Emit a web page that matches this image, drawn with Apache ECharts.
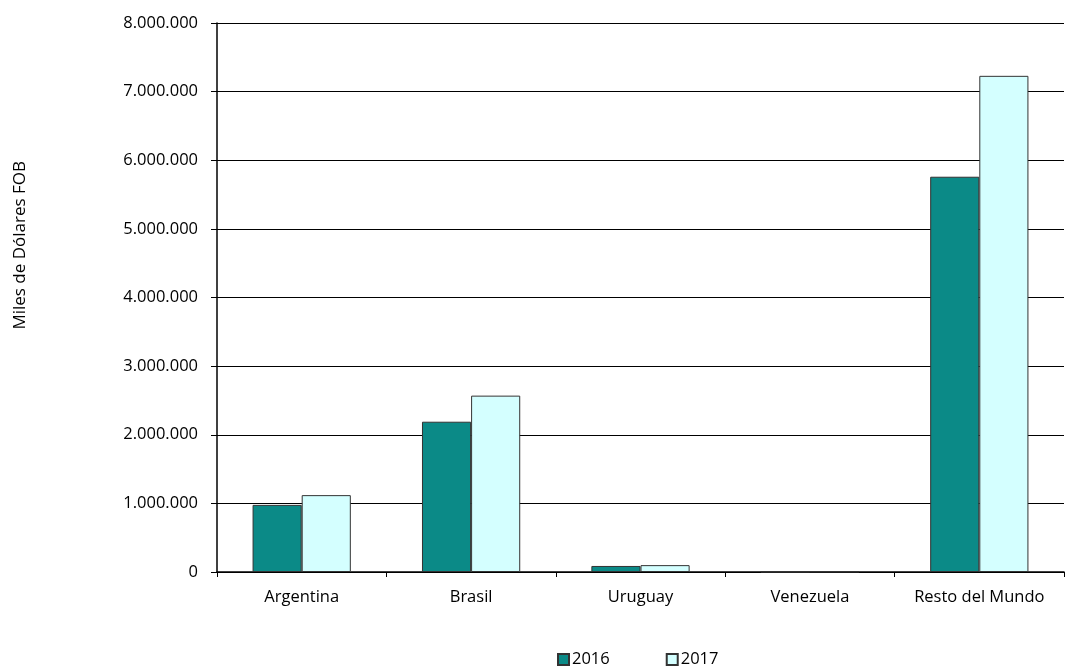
<!DOCTYPE html>
<html><head><meta charset="utf-8">
<script src="https://cdn.jsdelivr.net/npm/echarts@6/dist/echarts.min.js"></script>
<style>html,body{margin:0;padding:0;background:#fff}#c{width:1065px;height:666px}</style>
</head><body><div id="c"></div>
<script>
const categories = ['Argentina', 'Brasil', 'Uruguay', 'Venezuela', 'Resto del Mundo'];
const values2016 = [978000, 2190000, 88000, 1000, 5760000];
const values2017 = [1120000, 2570000, 100000, 5000, 7230000];
const seriesNames = ['2016', '2017'];
const yTicks = {min: 0, max: 8000000, interval: 1000000};
const yAxisTitle = 'Miles de Dólares FOB';

const font = '"Open Sans", Lato, sans-serif';
const fs = 16.5;
const fmt = v => String(v).replace(/\B(?=(\d{3})+(?!\d))/g, '.');
const chart = echarts.init(document.getElementById('c'));
chart.setOption({
  animation: false,
  grid: {left: 217, right: 1, top: 23, bottom: 94},
  graphic: [{
    type: 'text', left: 12, top: 161, rotation: Math.PI / 2,
    style: {text: yAxisTitle, font: '17px ' + font, fill: '#000'}
  }],
  legend: {
    top: 646, left: 552, itemWidth: 11, itemHeight: 11, itemGap: 56,
    textStyle: {fontFamily: font, fontSize: fs, color: '#000', padding: [0, 0, 0, -2]},
    data: seriesNames.map(n => ({name: n, icon: 'rect'}))
  },
  xAxis: {
    type: 'category', data: categories,
    axisLine: {lineStyle: {color: '#000', width: 1.5}},
    axisTick: {show: true, interval: 0, length: 5, alignWithLabel: false, lineStyle: {color: '#000'}},
    axisLabel: {interval: 0, fontFamily: font, fontSize: fs, color: '#000', margin: 17}
  },
  yAxis: {
    type: 'value', min: yTicks.min, max: yTicks.max, interval: yTicks.interval,
    axisLine: {show: true, lineStyle: {color: '#000', width: 1.5}},
    axisTick: {show: true, length: 6, lineStyle: {color: '#000'}},
    axisLabel: {fontFamily: font, fontSize: fs, color: '#000', margin: 19, formatter: fmt},
    splitLine: {show: true, lineStyle: {color: '#000', width: 1.2}}
  },
  series: [
    {name: seriesNames[0], type: 'bar', data: values2016, barGap: '0%', barCategoryGap: '42%',
     itemStyle: {color: '#0b8a87', borderColor: '#333', borderWidth: 1}},
    {name: seriesNames[1], type: 'bar', data: values2017, barGap: '0%', barCategoryGap: '42%',
     itemStyle: {color: '#d4ffff', borderColor: '#333', borderWidth: 1}}
  ]
});
</script></body></html>
